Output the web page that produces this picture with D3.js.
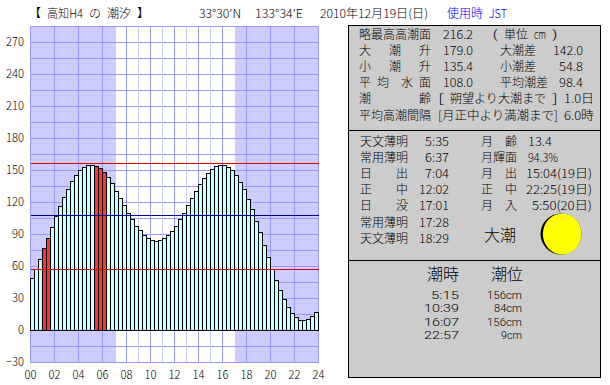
<!DOCTYPE html>
<html>
<head>
<meta charset="utf-8">
<script src="https://cdn.jsdelivr.net/npm/d3@7"></script>
<style>
body { margin: 0; background: #fff; }
svg { display: block; }
text { font-family: "Noto Sans CJK JP", sans-serif; font-weight: 300; fill: #000; }
.latin text { font-family: Roboto, sans-serif; font-weight: 300; }
</style>
</head>
<body>
<div id="chart"></div>
<script>
// tide height every 20 minutes
let tideLevels = [
    49, 57.5, 66.6, 76.8, 86, 96.5, 106.8, 116, 124.6, 132, 139.6, 145,
    150, 152.8, 154.6, 154.6, 153.7, 152, 148.5, 143.4, 137.8, 130, 123.7, 117,
    109.7, 104, 97.5, 93.8, 89, 86, 84.4, 83.4, 84.4, 86, 89, 92.8, 97.5, 104,
    109.7, 117, 123.7, 130, 136.9, 142.5, 147, 151, 153.7, 154.6, 154.6, 152.8,
    150, 145, 138.7, 132, 122.8, 113.4, 102, 91.8, 79.7, 68.4, 57, 46.9,
    37.5, 29, 21.6, 16, 12, 9.4, 9.4, 10.3, 13, 16.9
];
let redBars = [3, 4, 16, 17, 18];
let meanLevels = [157, 108, 57];
let meanColors = ['#dd0000', '#000099', '#dd0000'];
let sunRise = 7 + 4 / 60, sunSet = 17 + 1 / 60;
let lightHours = [9, 11, 13, 15];
let yTicks = d3.range(-30, 271, 30);
let xTicks = d3.range(0, 25, 2);

let titleText = "【 高知H4 の 潮汐 】";
let latText = "33°30'N", lonText = "133°34'E";
let dateText = "2010年12月19日(日)", zoneText = "使用時 JST";

let tideNames = ["略最高高潮面", "大   潮   升", "小   潮   升", "平 均  水 面", "潮        齢", "平均高潮間隔"];
let tideValues = ["216.2", "179.0", "135.4", "108.0"];
let unitText = "( 単位 cm )";
let rangeNames = ["大潮差", "小潮差", "平均潮差"];
let rangeValues = ["142.0", "54.8", "98.4"];
let ageNote = "[ 朔望より大潮まで ] 1.0日";
let intervalNote = "[月正中より満潮まで] 6.0時";

let sunNames = ["天文薄明", "常用薄明", "日    出", "正    中", "日    没", "常用薄明", "天文薄明"];
let sunTimes = ["5:35", "6:37", "7:04", "12:02", "17:01", "17:28", "18:29"];
let moonNames = ["月  齢", "月輝面", "月  出", "正  中", "月  入"];
let moonValues = ["13.4", "94.3%"];
let moonTimes = ["15:04(19日)", "22:25(19日)", "5:50(20日)"];
let tideKind = "大潮";
let moonLit = 0.943;

let extremeHeads = ["潮時", "潮位"];
let extremeTimes = ["5:15", "10:39", "16:07", "22:57"];
let extremeLevels = ["156cm", "84cm", "156cm", "9cm"];

let svgWidth = 610, svgHeight = 385;
let plot = {left: 30, right: 318, top: 26, bottom: 362};

let svg = d3.select("#chart").append("svg")
    .attr("width", svgWidth)
    .attr("height", svgHeight);

let x = d3.scaleLinear().domain([0, 24]).range([plot.left, plot.right]);
let y = d3.scaleLinear().domain([-30, 285]).range([plot.bottom, plot.top]);

// ms gothic style: half width latin, full width kanji
function textWidth(str, size) {
    let w = 0;
    for (let c of str) w += c.charCodeAt(0) < 256 ? size / 2 : size;
    return w;
}
// every word gets its own box so the blanks keep the old fixed pitch
function put(g, str, px, py, size, anchor, em) {
    em = em || size;
    let w = textWidth(str, em);
    let left = anchor == "end" ? px - w : px;
    let box = g.append("g");
    str.split(/( +)/).forEach(part => {
        if (part.trim()) {
            box.append("text")
                .attr("x", left)
                .attr("y", py)
                .attr("font-size", size)
                .attr("textLength", textWidth(part, em))
                .attr("lengthAdjust", "spacingAndGlyphs")
                .text(part);
        }
        left += textWidth(part, em);
    });
    return box;
}

let chart = svg.append("g").attr("transform", "translate(0.5,0.5)")
    .attr("shape-rendering", "crispEdges");

// night shading
chart.append("rect")
    .attr("x", x(0)).attr("y", y(285))
    .attr("width", x(24) - x(0)).attr("height", y(-30) - y(285))
    .attr("fill", "#ccccff");
chart.append("rect")
    .attr("x", Math.round(x(sunRise))).attr("y", y(285))
    .attr("width", Math.round(x(sunSet)) - Math.round(x(sunRise))).attr("height", y(-30) - y(285))
    .attr("fill", "#fff");

// grid
chart.selectAll(".hgrid")
    .data(d3.range(-30, 285, 15))
    .enter().append("line")
    .attr("x1", x(0)).attr("x2", x(24))
    .attr("y1", d => y(d)).attr("y2", d => y(d))
    .attr("stroke", "#9999ff");
chart.selectAll(".vlight")
    .data(lightHours)
    .enter().append("line")
    .attr("x1", d => x(d)).attr("x2", d => x(d))
    .attr("y1", y(285)).attr("y2", y(-30))
    .attr("stroke", "#ccccff");
chart.selectAll(".vgrid")
    .data(xTicks)
    .enter().append("line")
    .attr("x1", d => x(d)).attr("x2", d => x(d))
    .attr("y1", y(285)).attr("y2", y(-30))
    .attr("stroke", "#9999ff");
chart.append("rect")
    .attr("x", x(0)).attr("y", y(285))
    .attr("width", x(24) - x(0)).attr("height", y(-30) - y(285))
    .attr("fill", "none")
    .attr("stroke", "#9999ff");

// bars, one per 20 minutes
chart.selectAll(".bar")
    .data(tideLevels)
    .enter().append("rect")
    .attr("class", "bar")
    .attr("x", (d, i) => x(i / 3))
    .attr("y", d => Math.round(y(d)))
    .attr("width", (d, i) => x((i + 1) / 3) - x(i / 3))
    .attr("height", d => y(0) - Math.round(y(d)))
    .attr("fill", (d, i) => redBars.includes(i) ? "#ff3333" : "#ccffff")
    .attr("stroke", "#000");

chart.selectAll(".mean")
    .data(meanLevels)
    .enter().append("line")
    .attr("x1", x(0)).attr("x2", x(24))
    .attr("y1", d => Math.round(y(d))).attr("y2", d => Math.round(y(d)))
    .attr("stroke", (d, i) => meanColors[i]);

// axis labels
let yAxis = d3.axisLeft(y).tickValues(yTicks).tickSize(0).tickPadding(6);
let xAxis = d3.axisBottom(x).tickValues(xTicks).tickSize(0).tickPadding(8)
    .tickFormat(d3.format("02d"));
let axes = [
    svg.append("g").attr("transform", "translate(" + plot.left + ",0)").call(yAxis),
    svg.append("g").attr("transform", "translate(0," + plot.bottom + ")").call(xAxis)
];
axes.forEach(a => {
    a.call(g => g.select(".domain").remove());
    a.selectAll("text")
        .attr("font-size", 12)
        .attr("textLength", d => textWidth(a === axes[0] ? String(d) : d3.format("02d")(d), 12))
        .attr("lengthAdjust", "spacingAndGlyphs");
});
axes[0].attr("font-family", null);
axes[1].attr("font-family", null);

// header line
let head = svg.append("g");
put(head, titleText, 29, 18, 12);
put(head, latText, 199, 18, 12);
put(head, lonText, 255, 18, 12);
put(head, dateText, 320, 18, 12);
put(head, zoneText, 447, 18, 12).selectAll("text").style("fill", "#0000ff");

// right panels
let panelLeft = 348, panelRight = 600;
let panelEdges = [25, 130, 260, 377];
let panels = svg.append("g").attr("transform", "translate(0.5,0.5)")
    .attr("shape-rendering", "crispEdges");
panels.selectAll("rect")
    .data(d3.pairs(panelEdges))
    .enter().append("rect")
    .attr("x", panelLeft)
    .attr("y", d => d[0])
    .attr("width", panelRight - panelLeft)
    .attr("height", d => d[1] - d[0])
    .attr("fill", "#ccc")
    .attr("stroke", "#000");

let info = svg.append("g");

// tide constants
let rowStep = 16.1, tideBase = 39;
tideNames.forEach((s, i) => put(info, s, 359, tideBase + i * rowStep, 12));
tideValues.forEach((s, i) => put(info, s, 443, tideBase + i * rowStep, 12));
put(info, unitText, 492, tideBase, 12);
rangeNames.forEach((s, i) => put(info, s, 500, tideBase + (i + 1) * rowStep, 12));
rangeValues.forEach((s, i) => put(info, s, 583, tideBase + (i + 1) * rowStep, 12, "end"));
put(info, ageNote, 438, tideBase + 4 * rowStep, 12);
put(info, intervalNote, 438, tideBase + 5 * rowStep, 12);

// sun and moon
let sunBase = 146;
sunNames.forEach((s, i) => put(info, s, 360, sunBase + i * rowStep, 12));
sunTimes.forEach((s, i) => put(info, s, 449, sunBase + i * rowStep, 12, "end"));
moonNames.forEach((s, i) => put(info, s, 481, sunBase + i * rowStep, 12));
moonValues.forEach((s, i) => put(info, s, 528, sunBase + i * rowStep, 12));
moonTimes.forEach((s, i) => put(info, s, 592, sunBase + (i + 2) * rowStep, 12, "end"));
put(info, tideKind, 484, 241, 16);

let moonX = 561, moonY = 234, moonR = 20.5;
info.append("circle")
    .attr("cx", moonX).attr("cy", moonY).attr("r", moonR)
    .attr("fill", "#000");
info.append("ellipse")
    .attr("cx", moonX + moonR * (1 - moonLit)).attr("cy", moonY)
    .attr("rx", moonR * moonLit).attr("ry", moonR)
    .attr("fill", "#ffff00");

// high and low water
put(info, extremeHeads[0], 427, 280, 16);
put(info, extremeHeads[1], 491, 280, 16);
let extremes = info.append("g").attr("class", "latin");
extremeTimes.forEach((s, i) => put(extremes, s, 459, 299 + i * 13.35, 11.4, "end", 14));
extremeLevels.forEach((s, i) => put(extremes, s, 522, 299 + i * 13.35, 11.4, "end", 14));
</script>
</body>
</html>
